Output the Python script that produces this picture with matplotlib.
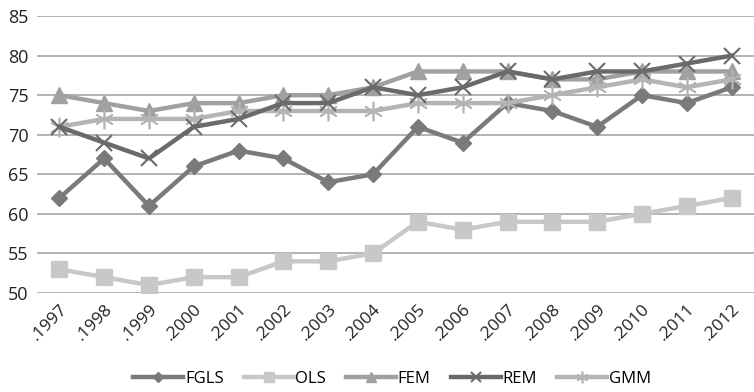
import matplotlib
matplotlib.use("Agg")
import matplotlib.pyplot as plt

years = ['.1997', '.1998', '.1999', '.2000', '.2001', '.2002', '.2003', '.2004',
         '.2005', '.2006', '.2007', '.2008', '.2009', '.2010', '.2011', '.2012']

fgls = [62, 67, 61, 66, 68, 67, 64, 65, 71, 69, 74, 73, 71, 75, 74, 76]
ols = [53, 52, 51, 52, 52, 54, 54, 55, 59, 58, 59, 59, 59, 60, 61, 62]
fem = [75, 74, 73, 74, 74, 75, 75, 76, 78, 78, 78, 77, 77, 78, 78, 78]
rem = [71, 69, 67, 71, 72, 74, 74, 76, 75, 76, 78, 77, 78, 78, 79, 80]
gmm = [71, 72, 72, 72, 73, 73, 73, 73, 74, 74, 74, 75, 76, 77, 76, 77]

plt.rcParams['font.family'] = ['Open Sans', 'DejaVu Sans']

fig = plt.figure(figsize=(7.54, 3.92), dpi=100)
ax = fig.add_axes([0.049, 0.2526, 0.951, 0.7064])

x = range(len(years))
lw = 3.2
ax.plot(x, fgls, color='#7a7a7a', lw=lw, marker='D', ms=8, label='FGLS', zorder=3)
ax.plot(x, ols, color='#c8c8c8', lw=lw, marker='s', ms=11, label='OLS', zorder=3)
ax.plot(x, fem, color='#a0a0a0', lw=lw, marker='^', ms=11, label='FEM', zorder=3)
ax.plot(x, rem, color='#6a6a6a', lw=lw, marker='x', ms=12, mew=1.5, label='REM', zorder=4)
ax.plot(x, gmm, color='#b4b4b4', lw=lw, marker=(6, 2, 0), ms=14, mew=1.2, label='GMM', zorder=3)

ax.set_ylim(50, 85)
ax.set_yticks(range(50, 86, 5))
ax.set_xlim(-0.5, 15.5)
ax.set_xticks(list(x))
ax.set_xticklabels(years, rotation=45, ha='right', rotation_mode='anchor', fontsize=12.5, color='#222222')
ax.tick_params(axis='y', labelsize=13, colors='#222222', length=0, pad=6)
ax.tick_params(axis='x', length=0, pad=6)
ax.grid(axis='y', color='#a6a6a6', lw=1.2)
ax.set_axisbelow(True)
for s in ax.spines.values():
    s.set_visible(False)

fig.legend(loc='lower center', bbox_to_anchor=(0.52, -0.025), ncol=5, frameon=False,
           fontsize=12, handlelength=3.0, handletextpad=0.1, columnspacing=1.2,
           markerscale=0.6)

fig.savefig('out.png', dpi=100)
